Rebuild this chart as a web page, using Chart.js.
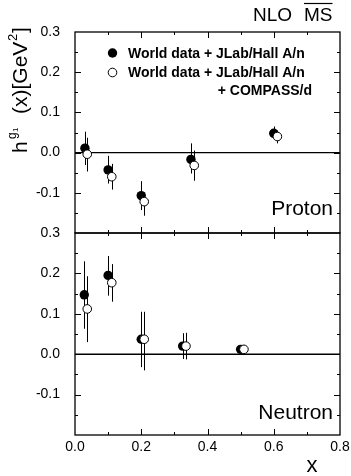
<!DOCTYPE html>
<html>
<head>
<meta charset="utf-8">
<script src="https://cdn.jsdelivr.net/npm/chart.js@4.4.1/dist/chart.umd.min.js"></script>
<style>
  body { margin: 0; background: #fff; }
  #wrap { position: relative; width: 351px; height: 476px; }
  #wrap canvas { position: absolute; left: 0; top: 0; }
</style>
</head>
<body>
<div id="wrap">
  <canvas id="neutron" width="351" height="476"></canvas>
  <canvas id="proton" width="351" height="476"></canvas>
</div>
<script>
// Proton, world data + JLab/Hall A/n
const protonX = [0.030, 0.100, 0.200, 0.350, 0.600];
const protonY = [0.011, -0.043, -0.107, -0.017, 0.048];
const protonHi = [0.052, -0.008, -0.071, 0.023, 0.065];
const protonLo = [-0.031, -0.077, -0.143, -0.052, 0.032];
// Proton, + COMPASS/d
const protonCX = [0.037, 0.111, 0.209, 0.360, 0.611];
const protonCY = [-0.004, -0.060, -0.122, -0.032, 0.040];
const protonCHi = [0.037, -0.028, -0.099, 0.005, 0.055];
const protonCLo = [-0.047, -0.092, -0.157, -0.070, 0.023];

// Neutron, world data + JLab/Hall A/n
const neutronX = [0.028, 0.100, 0.200, 0.325, 0.500];
const neutronY = [0.147, 0.195, 0.037, 0.020, 0.012];
const neutronHi = [0.230, 0.243, 0.105, 0.052, 0.020];
const neutronLo = [0.063, 0.145, -0.032, -0.012, 0.002];
// Neutron, + COMPASS/d
const neutronCX = [0.037, 0.111, 0.209, 0.335, 0.510];
const neutronCY = [0.112, 0.177, 0.037, 0.020, 0.012];
const neutronCHi = [0.193, 0.223, 0.105, 0.053, 0.022];
const neutronCLo = [0.030, 0.130, -0.040, -0.013, 0.002];

const legendLabels = ['World data + JLab/Hall A/n', 'World data + JLab/Hall A/n', '+ COMPASS/d'];

const FONT = '"Liberation Sans", Arial, Helvetica, sans-serif';

function points(xs, ys) {
    return xs.map((x, i) => ({ x: x, y: ys[i] }));
}

// error bars, zero line, frame with inward ticks, panel texts
const panelPlugin = {
    id: 'panel',
    beforeDatasetsDraw(chart, args, opts) {
        const ctx = chart.ctx;
        const xs = chart.scales.x, ys = chart.scales.y;
        const a = chart.chartArea;
        ctx.save();
        ctx.strokeStyle = '#000';
        // zero line
        ctx.lineWidth = 1.4;
        ctx.beginPath();
        ctx.moveTo(a.left, ys.getPixelForValue(0));
        ctx.lineTo(a.right, ys.getPixelForValue(0));
        ctx.stroke();
        // error bars
        ctx.lineWidth = 1;
        opts.errors.forEach(set => {
            set.x.forEach((x, i) => {
                const px = Math.round(xs.getPixelForValue(x)) + 0.5;
                ctx.beginPath();
                ctx.moveTo(px, ys.getPixelForValue(set.hi[i]));
                ctx.lineTo(px, ys.getPixelForValue(set.lo[i]));
                ctx.stroke();
            });
        });
        ctx.restore();
    },
    afterDatasetsDraw(chart, args, opts) {
        const ctx = chart.ctx;
        const xs = chart.scales.x, ys = chart.scales.y;
        const a = chart.chartArea;
        ctx.save();
        ctx.strokeStyle = '#000';
        ctx.lineWidth = 1.3;
        ctx.strokeRect(a.left, a.top, a.right - a.left, a.bottom - a.top);
        ctx.lineWidth = 1;
        ctx.beginPath();
        for (let i = 1; i < 8; i++) {
            const px = Math.round(xs.getPixelForValue(i / 10)) + 0.5;
            const len = i % 2 === 0 ? 6 : 3;
            ctx.moveTo(px, a.top); ctx.lineTo(px, a.top + len);
            ctx.moveTo(px, a.bottom); ctx.lineTo(px, a.bottom - len);
        }
        for (let i = -3; i <= 5; i++) {
            const py = Math.round(ys.getPixelForValue(i * 0.05)) + 0.5;
            const len = i % 2 === 0 ? 6 : 3;
            ctx.moveTo(a.left, py); ctx.lineTo(a.left + len, py);
            ctx.moveTo(a.right, py); ctx.lineTo(a.right - len, py);
        }
        ctx.stroke();

        ctx.fillStyle = '#000';
        ctx.textAlign = 'right';
        ctx.textBaseline = 'alphabetic';
        ctx.font = '21px ' + FONT;
        ctx.fillText(opts.name, a.right - 7, opts.nameY);

        if (opts.top) {
            // NLO MS-bar
            ctx.font = '19px ' + FONT;
            ctx.textAlign = 'left';
            ctx.fillText('NLO', 253, 21);
            ctx.fillText('MS', 304, 21);
            const w = ctx.measureText('MS').width;
            ctx.lineWidth = 1.2;
            ctx.beginPath();
            ctx.moveTo(304, 3.5); ctx.lineTo(304 + w, 3.5);
            ctx.stroke();

            // legend
            ctx.lineWidth = 1;
            ctx.beginPath();
            ctx.arc(112.5, 53, 4.7, 0, Math.PI * 2);
            ctx.fill();
            ctx.beginPath();
            ctx.arc(112.5, 72.5, 4.3, 0, Math.PI * 2);
            ctx.stroke();
            ctx.font = 'bold 14px ' + FONT;
            ctx.textBaseline = 'middle';
            ctx.fillText(legendLabels[0], 128, 54);
            ctx.fillText(legendLabels[1], 128, 73);
            ctx.textAlign = 'right';
            ctx.fillText(legendLabels[2], 312, 91);

            // y axis title
            ctx.save();
            ctx.translate(27, 153);
            ctx.rotate(-Math.PI / 2);
            ctx.textAlign = 'left';
            ctx.textBaseline = 'alphabetic';
            ctx.font = '21px ' + FONT;
            ctx.fillText('h', 0, 0);
            ctx.font = '12px ' + FONT;
            ctx.fillText('g', 14, -11);
            ctx.font = '8px ' + FONT;
            ctx.fillText('1', 21, -9);
            ctx.font = '21px ' + FONT;
            ctx.fillText('(x)[GeV', 39, 0);
            ctx.font = '13px ' + FONT;
            ctx.fillText('2', 112, -10);
            ctx.font = '21px ' + FONT;
            ctx.fillText(']', 120, 0);
            ctx.restore();
        } else {
            ctx.font = '22px ' + FONT;
            ctx.textAlign = 'center';
            ctx.fillText('x', 312, 472);
        }
        ctx.restore();
    }
};

function makePanel(id, name, f, c, top) {
    const yLabel = v => (Math.abs(v + 0.2) < 1e-6 ? '' : v.toFixed(1));
    return new Chart(document.getElementById(id), {
        type: 'scatter',
        data: {
            datasets: [
                {
                    label: legendLabels[0],
                    data: points(f.x, f.y),
                    backgroundColor: '#000',
                    borderColor: '#000',
                    pointRadius: 4.7,
                    borderWidth: 0,
                    order: 2
                },
                {
                    label: legendLabels[1] + ' ' + legendLabels[2],
                    data: points(c.x, c.y),
                    backgroundColor: '#fff',
                    borderColor: '#000',
                    pointRadius: 4.3,
                    borderWidth: 1,
                    order: 1
                }
            ]
        },
        options: {
            responsive: false,
            animation: false,
            layout: {
                padding: top
                    ? { top: 32, bottom: 243, left: 0, right: 11 }
                    : { top: 233, bottom: 0, left: 0, right: 11 }
            },
            plugins: {
                legend: { display: false },
                tooltip: { enabled: false },
                panel: {
                    name: name,
                    nameY: top ? 215 : 419,
                    top: top,
                    errors: [f, c]
                }
            },
            scales: {
                x: {
                    type: 'linear',
                    min: 0,
                    max: 0.8,
                    display: !top,
                    grid: { display: false },
                    border: { display: false },
                    ticks: {
                        stepSize: 0.2,
                        padding: -4,
                        color: '#000',
                        font: { family: FONT, size: 14 },
                        callback: v => v.toFixed(1)
                    },
                    afterFit: s => { s.height = top ? 0 : 41; }
                },
                y: {
                    min: -0.2,
                    max: 0.3,
                    grid: { display: false },
                    border: { display: false },
                    ticks: {
                        stepSize: 0.1,
                        padding: 7,
                        color: '#000',
                        font: { family: FONT, size: 14 },
                        callback: yLabel
                    },
                    afterFit: s => { s.width = 75; }
                }
            }
        },
        plugins: [panelPlugin]
    });
}

makePanel('proton', 'Proton',
    { x: protonX, y: protonY, hi: protonHi, lo: protonLo },
    { x: protonCX, y: protonCY, hi: protonCHi, lo: protonCLo }, true);
makePanel('neutron', 'Neutron',
    { x: neutronX, y: neutronY, hi: neutronHi, lo: neutronLo },
    { x: neutronCX, y: neutronCY, hi: neutronCHi, lo: neutronCLo }, false);
</script>
</body>
</html>
